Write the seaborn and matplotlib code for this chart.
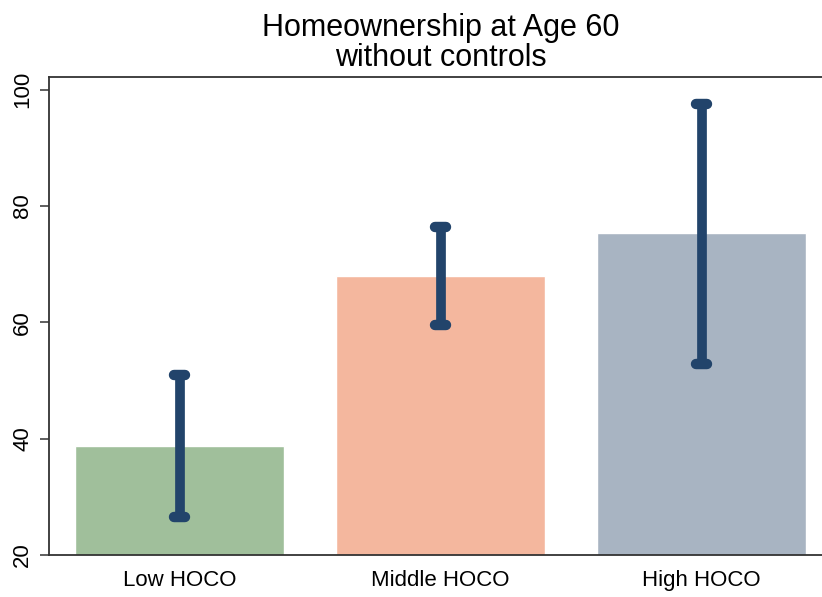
import matplotlib
matplotlib.use("Agg")
import matplotlib.pyplot as plt
import seaborn as sns

groups = ["Low HOCO", "Middle HOCO", "High HOCO"]
share = [38.7, 68.0, 75.3]
ci_low = [26.5, 59.6, 52.9]
ci_high = [51.0, 76.4, 97.5]
bar_colors = ["#a0bf9b", "#f4b79e", "#a8b4c2"]
err_color = "#22446b"

sns.set_style("white")
plt.rcParams["font.family"] = ["Liberation Sans", "DejaVu Sans"]
plt.rcParams["text.color"] = "black"
plt.rcParams["xtick.color"] = "black"
plt.rcParams["ytick.color"] = "black"

fig = plt.figure(figsize=(8.22, 5.97), dpi=100)
ax = fig.add_axes([49 / 822, 42 / 597, 783 / 822, 478 / 597])

sns.barplot(x=groups, y=share, hue=groups, palette=bar_colors, legend=False,
            width=0.8, saturation=1, ax=ax)

xs = list(range(len(groups)))
ax.vlines(xs, ci_low, ci_high, color=err_color, lw=7, capstyle="butt", zorder=3)
ax.hlines(ci_low + ci_high, [x - 0.021 for x in xs] * 2, [x + 0.021 for x in xs] * 2,
          color=err_color, lw=7.5, capstyle="round", zorder=4)

ax.set_xlim(-0.5, 2.5)
ax.set_ylim(20, 102.2)
ax.set_yticks([20, 40, 60, 80, 100])
ax.set_xlabel("")
ax.set_ylabel("")
ax.set_title("Homeownership at Age 60\nwithout controls", fontsize=22,
             linespacing=1.0, pad=8)

for side in ["left", "bottom", "top", "right"]:
    ax.spines[side].set_color("#333333")
    ax.spines[side].set_linewidth(1.3)

ax.tick_params(axis="y", length=6.5, width=1.1, color="#333333", labelcolor="black",
               labelsize=16, pad=5, labelrotation=90, left=True)
ax.tick_params(axis="x", length=0, labelsize=16, labelcolor="black", pad=11)
for lab in ax.get_yticklabels():
    lab.set_va("center")

fig.savefig("out.png", dpi=100)
